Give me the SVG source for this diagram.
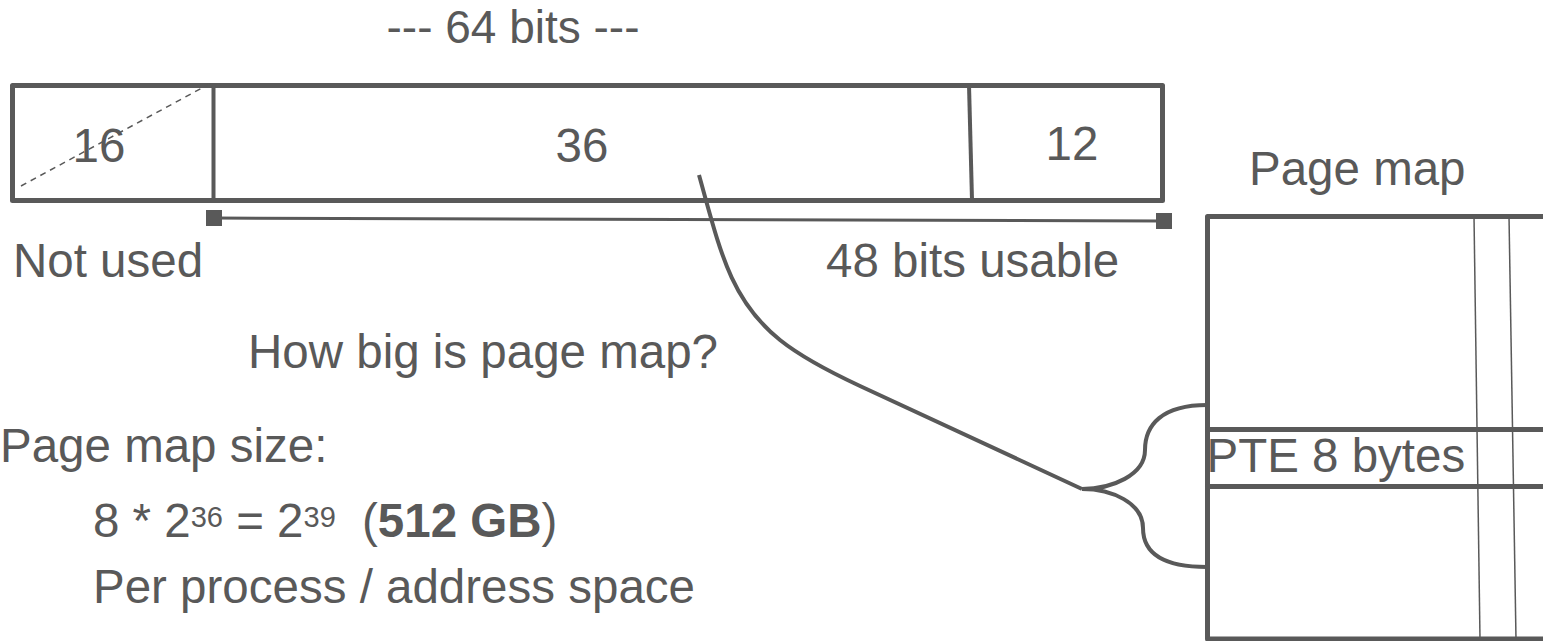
<svg xmlns="http://www.w3.org/2000/svg" width="1543" height="641" viewBox="0 0 1543 641">
  <style>
    text { font-family: "Liberation Sans", Arial, sans-serif; font-size: 47.5px; fill: #595959; }
    .title { font-size: 46px; }
    .thick { fill: none; stroke: #595959; stroke-width: 5; stroke-linejoin: round; stroke-linecap: round; }
    .mid { fill: none; stroke: #595959; stroke-width: 4; }
    .thin { fill: none; stroke: #595959; stroke-width: 1.5; }
    .conn { fill: none; stroke: #595959; stroke-width: 4; }
    .mid-c { text-anchor: middle; }
  </style>
  <defs>
    <marker id="sq" viewBox="0 0 10 10" refX="5" refY="5" markerWidth="16" markerHeight="16" markerUnits="userSpaceOnUse" orient="auto">
      <rect x="0" y="0" width="10" height="10" fill="#595959"/>
    </marker>
  </defs>

  <text id="title" class="title mid-c" x="513" y="43">--- 64 bits ---</text>

  <!-- 64-bit virtual address split into fields -->
  <g id="address">
    <rect class="thick" x="12.5" y="85.5" width="1150" height="115"/>
    <line class="mid" x1="213.5" y1="85" x2="213.5" y2="200"/>
    <line class="mid" x1="969" y1="85" x2="972" y2="200"/>
    <line x1="21" y1="186" x2="213" y2="82" stroke="#595959" stroke-width="1.5" stroke-dasharray="6,5"/>
    <text class="mid-c" x="99" y="162">16</text>
    <text class="mid-c" x="582" y="162">36</text>
    <text class="mid-c" x="1072" y="160">12</text>
  </g>

  <!-- usable range -->
  <g id="usable">
    <line x1="214" y1="218" x2="1164" y2="221" stroke="#595959" stroke-width="3" marker-start="url(#sq)" marker-end="url(#sq)"/>
    <text x="13" y="277">Not used</text>
    <text x="826" y="277">48 bits usable</text>
  </g>

  <text id="question" x="248" y="368">How big is page map?</text>

  <g id="size">
    <text x="0" y="462">Page map size:</text>
    <text x="93" y="537">8 * 2<tspan font-size="29" dy="-10">36</tspan><tspan dy="10"> = 2</tspan><tspan font-size="29" dy="-10">39</tspan><tspan dy="10" dx="13"> (</tspan><tspan font-weight="bold">512 GB</tspan>)</text>
    <text x="93" y="603">Per process / address space</text>
  </g>

  <!-- page map table -->
  <g id="pagemap">
    <text x="1249" y="185">Page map</text>
    <path class="thick" d="M1560,216.5 H1207.5 V639 H1560"/>
    <line class="thin" x1="1474" y1="216" x2="1480" y2="639"/>
    <line class="thin" x1="1509" y1="216" x2="1516" y2="639"/>
    <line class="thick" x1="1207.5" y1="429.5" x2="1560" y2="429.5"/>
    <line class="thick" x1="1207.5" y1="486.5" x2="1560" y2="486.5"/>
    <text x="1206.5" y="472">PTE 8 bytes</text>
  </g>

  <g id="connectors">
    <path class="conn" d="M699,175 C720,250 730,300 780,340 C800,356 830,372 860,386 L1082,489"/>
    <path class="conn" d="M1207,405 C1162,405 1145,425 1145,450 C1145,475 1112,489 1082,489 C1112,489 1143,503 1143,528 C1143,553 1162,567 1207,567"/>
  </g>
</svg>
